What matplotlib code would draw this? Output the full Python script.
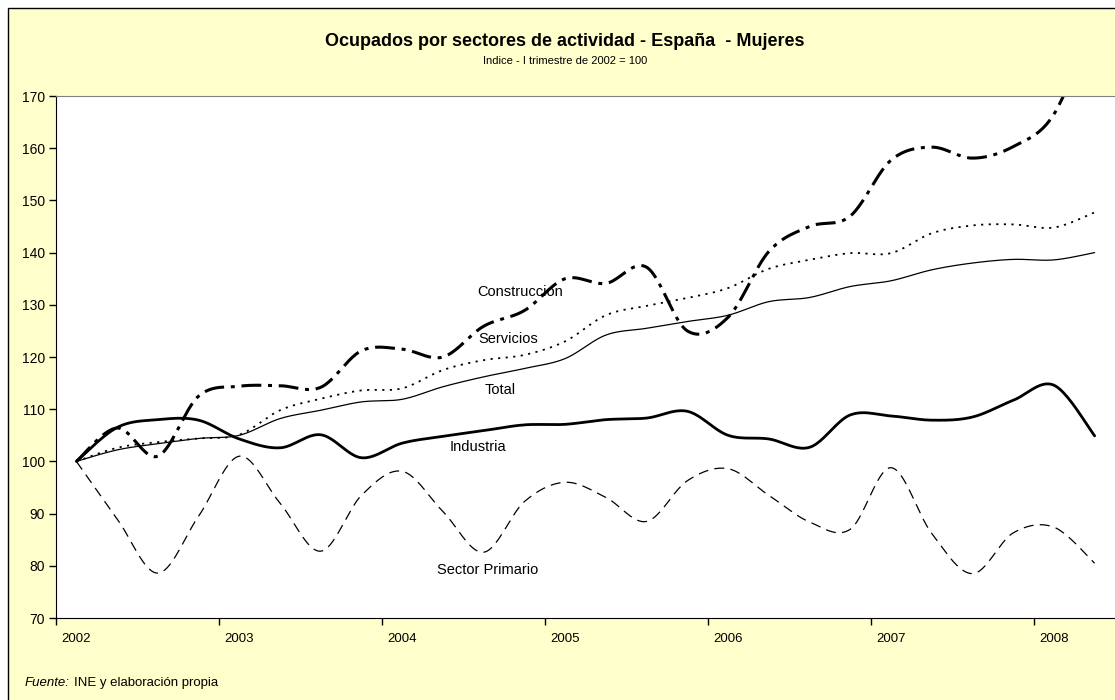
"""Ocupados por sectores de actividad - Espana - Mujeres (indice, I trim 2002 = 100)"""
import numpy as np
import matplotlib
matplotlib.use("Agg")
import matplotlib.pyplot as plt
from matplotlib.patches import Rectangle

plt.rcParams['font.family'] = ['Liberation Sans', 'DejaVu Sans']

# Quarterly data, 2002 Q1 .. 2008 Q2
years = ['2002', '2003', '2004', '2005', '2006', '2007', '2008']
construccion = [100, 106.4, 101, 112.5, 114.4, 114.5, 114.2, 121.2, 121.5, 120,
                125.9, 128.9, 135, 134.1, 137.2, 125, 127.6, 140.2, 145, 147,
                157.7, 160.2, 158.1, 160.3, 166.5, 185]
servicios = [100, 102.6, 103.7, 104.4, 105.1, 109.8, 112, 113.6, 114, 117.5,
             119.4, 120.4, 123, 128, 129.8, 131.3, 133.2, 136.9, 138.6, 139.9,
             139.9, 143.7, 145.2, 145.4, 144.8, 147.7]
total = [100, 102.2, 103.4, 104.4, 105, 108.2, 109.8, 111.4, 111.9, 114.3,
         116.2, 117.8, 119.7, 124.2, 125.5, 126.8, 128, 130.6, 131.4, 133.5,
         134.6, 136.7, 138, 138.7, 138.6, 140]
industria = [100, 106.5, 108, 107.9, 104.3, 102.6, 105.1, 100.7, 103.5, 104.8,
             105.9, 107, 107.1, 108, 108.3, 109.6, 105, 104.3, 102.7, 108.9,
             108.7, 107.9, 108.5, 111.7, 114.6, 104.9]
primario = [100, 89, 78.6, 89.5, 101, 92, 82.8, 93.5, 98.1, 90.4,
            82.6, 92.3, 96, 93.1, 88.5, 96.3, 98.6, 93.5, 88.4, 87,
            98.8, 86.2, 78.5, 86.3, 87.4, 80.5]


def smooth(values, steps=24):
    """Bezier smoothing through every point, like a spreadsheet 'smoothed line'."""
    pts = np.column_stack([np.arange(len(values)), values]).astype(float)
    t = np.linspace(0, 1, steps)[:, None]
    out = []
    for i in range(len(pts) - 1):
        p0 = pts[max(i - 1, 0)]
        p1, p2 = pts[i], pts[i + 1]
        p3 = pts[min(i + 2, len(pts) - 1)]
        c1 = p1 + (p2 - p0) / 6
        c2 = p2 - (p3 - p1) / 6
        seg = ((1 - t) ** 3) * p1 + 3 * ((1 - t) ** 2) * t * c1 \
            + 3 * (1 - t) * t ** 2 * c2 + t ** 3 * p2
        out.append(seg if i == 0 else seg[1:])
    return np.vstack(out)


fig = plt.figure(figsize=(11.15, 7.0), dpi=100)
fig.patch.set_facecolor('white')
# yellow chart frame, behind everything
frame = Rectangle((8 / 1115, -0.01), 1.2, 1 - 8 / 700 + 0.01,
                  transform=fig.transFigure, facecolor='#FFFFCC',
                  edgecolor='black', linewidth=1, zorder=-10)
fig.add_artist(frame)

ax = fig.add_axes([56 / 1115, 1 - 618 / 700, 1 - 56 / 1115, (618 - 96) / 700])
ax.set_zorder(1)
ax.set_facecolor('white')

series = [
    (total, dict(color='black', lw=0.9, ls='-')),
    (servicios, dict(color='black', lw=1.3, ls=(0, (1.2, 3.0)))),
    (construccion, dict(color='black', lw=2.2, ls=(0, (6.5, 2.2, 1.3, 2.2)))),
    (industria, dict(color='black', lw=2.0, ls='-')),
    (primario, dict(color='black', lw=0.9, ls=(0, (8, 5)))),
]
for vals, style in series:
    curve = smooth(vals)
    ax.plot(curve[:, 0], curve[:, 1], solid_capstyle='round', **style)

labels = [('Construccion', 10.9, 132.5), ('Servicios', 10.6, 123.5),
          ('Total', 10.4, 113.7), ('Industria', 9.85, 102.7),
          ('Sector Primario', 10.1, 79.1)]
for txt, x, y in labels:
    ax.text(x, y, txt, ha='center', va='center', fontsize=10.5)

ax.set_xlim(-0.5, len(total) - 0.5)
ax.set_ylim(70, 170)
ax.set_yticks(np.arange(70, 171, 10))
ax.tick_params(axis='y', direction='out', length=5, width=1, labelsize=10, pad=3)

ax.set_xticks(np.arange(-0.5, len(total), 4))
ax.set_xticklabels([])
ax.set_xticks(np.arange(0, len(total), 4), minor=True)
ax.set_xticklabels(years, minor=True)
ax.tick_params(axis='x', which='major', direction='out', length=5, width=1)
ax.tick_params(axis='x', which='minor', length=0, labelsize=9.5, pad=11)

for side in ('left', 'bottom'):
    ax.spines[side].set_color('black')
ax.spines['top'].set_color('#808080')
ax.spines['right'].set_visible(False)

fig.text(565 / 1115, 1 - 42 / 700, 'Ocupados por sectores de actividad - España  - Mujeres',
         ha='center', va='center', fontsize=13, fontweight='bold')
fig.text(565 / 1115, 1 - 61 / 700, 'Indice - I trimestre de 2002 = 100',
         ha='center', va='center', fontsize=8)
fig.text(25 / 1115, 1 - 683 / 700, 'Fuente:', ha='left', va='center',
         fontsize=9.5, style='italic')
fig.text(74 / 1115, 1 - 683 / 700, 'INE y elaboración propia', ha='left',
         va='center', fontsize=9.5)

fig.savefig('out.png', dpi=100, facecolor=fig.get_facecolor())
